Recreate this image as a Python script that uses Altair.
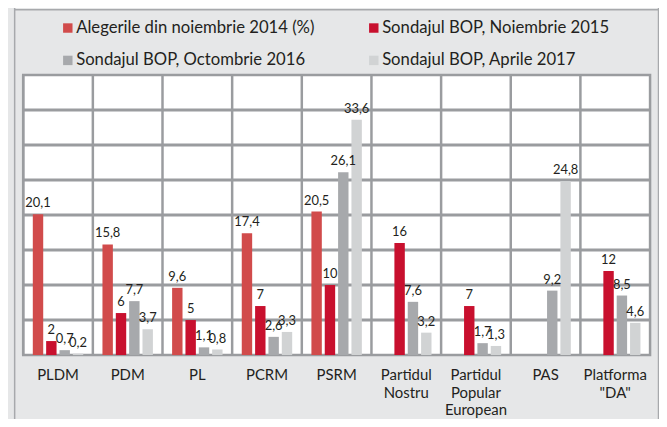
import altair as alt
import pandas as pd

parties = ["PLDM", "PDM", "PL", "PCRM", "PSRM", "Partidul Nostru",
           "Partidul Popular European", "PAS", 'Platforma "DA"']
series = ["Alegerile din noiembrie 2014 (%)", "Sondajul BOP, Noiembrie 2015",
          "Sondajul BOP, Octombrie 2016", "Sondajul BOP, Aprile 2017"]
alegeri_2014 = [20.1, 15.8, 9.6, 17.4, 20.5, None, None, None, None]
bop_2015 = [2, 6, 5, 7, 10, 16, 7, None, 12]
bop_2016 = [0.7, 7.7, 1.1, 2.6, 26.1, 7.6, 1.7, 9.2, 8.5]
bop_2017 = [0.2, 3.7, 0.8, 3.3, 33.6, 3.2, 1.3, 24.8, 4.6]
colors = ["#d14b4b", "#c8102e", "#a7a9ac", "#d1d3d4"]
gridlines = [5, 10, 15, 20, 25, 30, 35]

rows = []
for s, vals in zip(series, [alegeri_2014, bop_2015, bop_2016, bop_2017]):
    for p, v in zip(parties, vals):
        if v is None:
            continue
        rows.append({"party": p, "series": s, "value": v,
                     "label": f"{v:g}".replace(".", ",")})
df = pd.DataFrame(rows)
df_vgrid = pd.DataFrame({"party": parties})
df_hgrid = pd.DataFrame({"level": gridlines})

W, H = 631, 282
FONT = "Lato"
TXT = "#231f20"
GRID = "#9a9c9f"
GW = 2.5

xscale = alt.Scale(domain=parties, paddingInner=0, paddingOuter=0)
offscale = alt.Scale(domain=series, paddingInner=0.22, paddingOuter=0.72)
yscale = alt.Scale(domain=[0, 40], nice=False)

xaxis = alt.Axis(title=None, labelAngle=0, labelExpr="split(datum.label, ' ')",
                 labelFontSize=15, labelFont=FONT, labelColor=TXT,
                 labelPadding=13, labelLineHeight=17.5, ticks=False,
                 domain=False, grid=False, labelBaseline="top")

hgrid = alt.Chart(df_hgrid).mark_rect(color=GRID, height=3, opacity=1).encode(
    y=alt.Y("level:Q", scale=yscale, axis=None),
    x=alt.value(0),
    x2=alt.value(W),
)

vgrid = alt.Chart(df_vgrid).mark_rule(color=GRID, strokeWidth=GW).encode(
    x=alt.X("party:N", sort=parties, scale=xscale, bandPosition=0, axis=xaxis),
)

bars = alt.Chart(df).mark_bar().encode(
    x=alt.X("party:N", sort=parties, scale=xscale, axis=xaxis),
    xOffset=alt.XOffset("series:N", scale=offscale, sort=series),
    y=alt.Y("value:Q", scale=yscale, axis=None, stack=None),
    color=alt.Color("series:N", sort=series,
                    scale=alt.Scale(domain=series, range=colors),
                    legend=alt.Legend(title=None, direction="horizontal", columns=2)),
)

texts = alt.Chart(df).mark_text(baseline="bottom", dy=-4, fontSize=13,
                                font=FONT, color=TXT).encode(
    x=alt.X("party:N", sort=parties, scale=xscale, axis=xaxis),
    xOffset=alt.XOffset("series:N", scale=offscale, sort=series),
    y=alt.Y("value:Q", scale=yscale, axis=None),
    text="label:N",
)

frame_left = alt.Chart().mark_rule(color="#a7a9ac", strokeWidth=1.5).encode(
    x=alt.value(-8.6), y=alt.value(-70), y2=alt.value(H + 80))
frame_right = alt.Chart().mark_rule(color="#a7a9ac", strokeWidth=1.5).encode(
    x=alt.value(W + 8.5), y=alt.value(-70), y2=alt.value(H + 80))
frame_top = alt.Chart().mark_rule(color="#a7a9ac", strokeWidth=1.5).encode(
    x=alt.value(-9), x2=alt.value(W + 9), y=alt.value(-65.5))

chart = alt.layer(hgrid, vgrid, bars, texts, frame_left, frame_right, frame_top).properties(
    width=W, height=H,
    autosize=alt.AutoSizeParams(type="none"),
    padding={"left": 15.3, "top": 66, "right": 9, "bottom": 63},
    background="#e6e7e8",
).configure_view(
    fill="white", stroke=GRID, strokeWidth=GW
).configure_legend(
    orient="none", legendX=36.5, legendY=-56, columnPadding=51,
    rowPadding=15, symbolType="square", symbolSize=90, symbolStrokeWidth=0,
    labelFontSize=16.8, labelFont=FONT, labelColor=TXT, labelOffset=0,
    labelLimit=400, padding=0
)

chart.save("out.html", embed_options={"renderer": "svg", "actions": False})
